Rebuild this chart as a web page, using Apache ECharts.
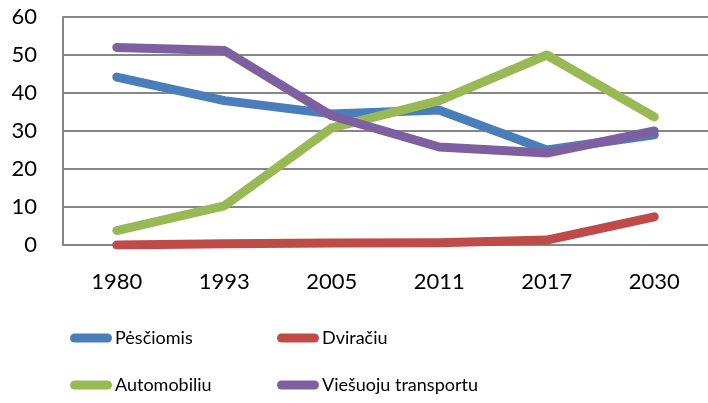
<!DOCTYPE html>
<html><head><meta charset="utf-8">
<script src="https://cdn.jsdelivr.net/npm/echarts@6/dist/echarts.min.js"></script>
<style>html,body{margin:0;padding:0;background:#fff}#c{width:708px;height:403px}</style>
</head><body><div id="c"></div>
<script>
const categories = ['1980','1993','2005','2011','2017','2030'];
const pescomis = [44.2, 38, 34.5, 35.5, 25, 29];
const dviraciu = [0, 0.3, 0.5, 0.6, 1.3, 7.4];
const automobiliu = [3.8, 10.3, 30.8, 38, 50, 33.7];
const viesuoju = [52, 51.2, 34, 25.8, 24.2, 30];
const seriesNames = ['Pėsčiomis','Dviračiu','Automobiliu','Viešuoju transportu'];
const colors = ['#4a7ebb','#be4b48','#98b954','#7d60a0'];
const yMin = 0, yMax = 60, yStep = 10;

const capsule = 'path://M4.5,0 H37.5 A4.5,4.5 0 0 1 37.5,9 H4.5 A4.5,4.5 0 0 1 4.5,0 Z';
const font = 'Lato';
const chart = echarts.init(document.getElementById('c'), null, {renderer:'canvas'});
const data = [pescomis, dviraciu, automobiliu, viesuoju];
const legendCommon = {
  orient: 'vertical', icon: capsule, itemWidth: 42, itemHeight: 9, itemGap: 29,
  textStyle: {fontFamily: font, fontSize: 18, color: '#000', padding: [0,0,0,-2]},
  selectedMode: false
};
chart.setOption({
  animation: false,
  color: colors,
  grid: {left: 63, top: 17, right: -12, bottom: 158, containLabel: false},
  legend: [
    Object.assign({left: 65, top: 324, data: [seriesNames[0], seriesNames[2]]}, legendCommon),
    Object.assign({left: 272, top: 324, data: [seriesNames[1], seriesNames[3]]}, legendCommon)
  ],
  xAxis: {
    type: 'category', data: categories, boundaryGap: true,
    axisLine: {show: true, lineStyle: {color: '#868686', width: 2}},
    axisTick: {show: false},
    axisLabel: {color: '#000', fontFamily: font, fontSize: 22, margin: 26}
  },
  yAxis: {
    type: 'value', min: yMin, max: yMax, interval: yStep,
    axisLine: {show: true, lineStyle: {color: '#868686', width: 2}},
    axisTick: {show: false},
    splitLine: {lineStyle: {color: '#868686', width: 2}},
    axisLabel: {color: '#000', fontFamily: font, fontSize: 22, margin: 26}
  },
  series: seriesNames.map((n, i) => ({
    name: n, type: 'line', data: data[i], symbol: 'none',
    lineStyle: {width: 9, cap: 'round', join: 'round', color: colors[i]},
    itemStyle: {color: colors[i]}
  }))
});
</script></body></html>
